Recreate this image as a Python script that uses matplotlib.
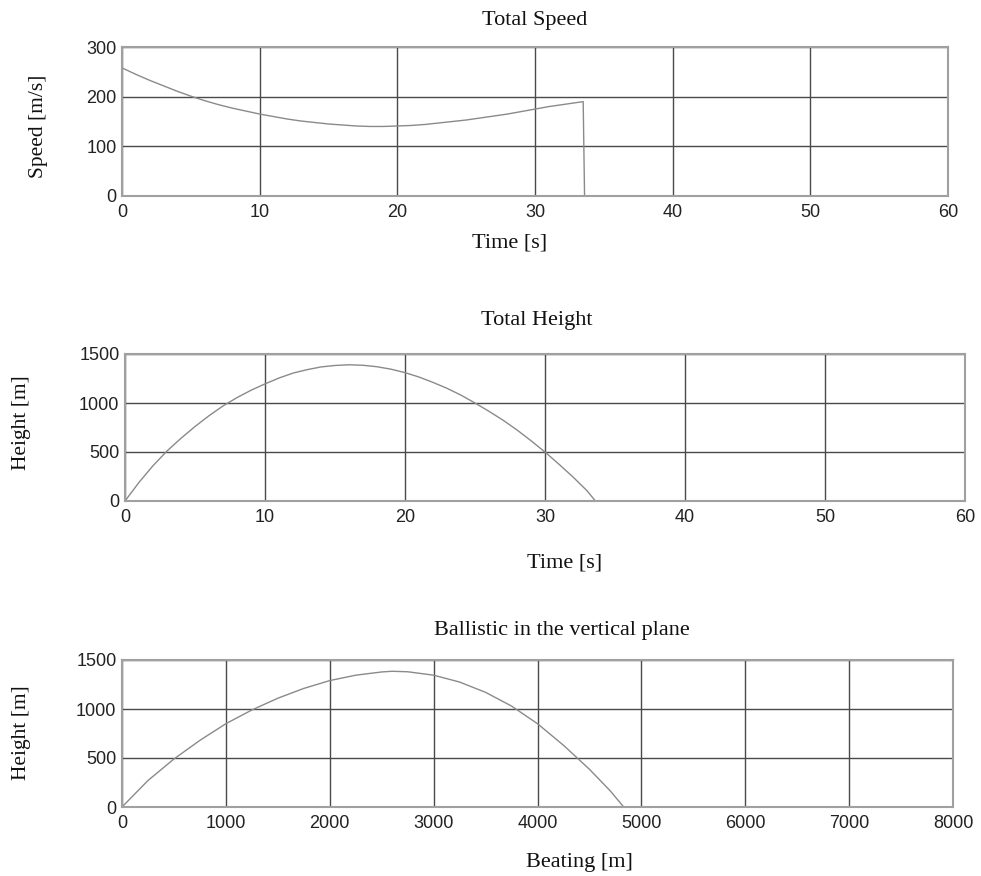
import matplotlib
matplotlib.use("Agg")
import matplotlib.pyplot as plt

# --- data ---
speed_t = [0, 1, 2, 3, 4, 5, 6, 7, 8, 9, 10, 11, 12, 13, 14, 15, 16, 17, 18, 19,
           20, 21, 22, 23, 24, 25, 26, 27, 28, 29, 30, 31, 32, 33, 33.5, 33.6, 40]
speed_v = [258, 245, 233, 222, 211, 201, 192, 184, 177, 171, 165, 160, 155, 151, 148,
           145, 143, 141, 140, 140, 141, 142, 144, 147, 150, 153, 157, 161, 165, 170,
           175, 180, 184, 188, 190, 0, 0]

height_t = [0, 1, 2, 3, 4, 5, 6, 7, 8, 9, 10, 11, 12, 13, 14, 15, 16, 17, 18, 19,
            20, 21, 22, 23, 24, 25, 26, 27, 28, 29, 30, 31, 32, 33, 33.6, 40]
height_h = [0, 190, 360, 510, 640, 760, 870, 970, 1055, 1130, 1195, 1255, 1305, 1340,
            1368, 1383, 1390, 1385, 1370, 1345, 1310, 1265, 1210, 1150, 1080, 1000,
            915, 825, 725, 615, 500, 375, 245, 105, 0, 0]

range_x = [0, 250, 500, 750, 1000, 1250, 1500, 1750, 2000, 2250, 2500, 2600, 2750,
           3000, 3250, 3500, 3750, 4000, 4250, 4500, 4700, 4830, 5500]
range_h = [0, 270, 490, 680, 850, 990, 1110, 1210, 1290, 1345, 1378, 1385, 1380,
           1345, 1275, 1170, 1030, 850, 630, 385, 165, 0, 0]

speed_xticks = [0, 10, 20, 30, 40, 50, 60]
speed_yticks = [0, 100, 200, 300]
height_xticks = [0, 10, 20, 30, 40, 50, 60]
height_yticks = [0, 500, 1000, 1500]
range_xticks = [0, 1000, 2000, 3000, 4000, 5000, 6000, 7000, 8000]
range_yticks = [0, 500, 1000, 1500]

fig = plt.figure(figsize=(9.81, 8.76), dpi=100)

serif = ["Liberation Serif", "DejaVu Serif"]
sans = ["Liberation Sans", "DejaVu Sans"]

def setup(ax, xt, yt, xl, yl, title, tx, ty, xlx, xly, ylx, yly):
    ax.set_xlim(xt[0], xt[-1])
    ax.set_ylim(yt[0], yt[-1])
    ax.set_xticks(xt)
    ax.set_yticks(yt)
    ax.grid(True, color="#4a4a4a", linewidth=1.0)
    ax.tick_params(axis="x", length=0, labelsize=13, pad=6, labelcolor="#222222")
    ax.tick_params(axis="y", length=0, labelsize=13, pad=4, labelcolor="#222222")
    for lab in ax.get_xticklabels() + ax.get_yticklabels():
        lab.set_family(sans)
    for s in ax.spines.values():
        s.set_color("#a0a0a0")
        s.set_linewidth(1.5)
    fig.text(tx / 981, 1 - ty / 876, title, ha="center", va="center",
             family=serif, fontsize=16, color="#111111")
    fig.text(xlx / 981, 1 - xly / 876, xl, ha="center", va="center",
             family=serif, fontsize=16, color="#111111")
    fig.text(ylx / 981, 1 - yly / 876, yl, ha="center", va="center",
             rotation=90, family=serif, fontsize=15.5, color="#111111")

line_kw = dict(color="#8a8a8a", linewidth=1.0)

ax1 = fig.add_axes([122/981, 1-196/876, (948-122)/981, (196-47)/876])
ax1.plot(speed_t, speed_v, **line_kw)
setup(ax1, speed_xticks, speed_yticks, "Time [s]", "Speed [m/s]",
      "Total Speed", 535, 20, 510, 243, 38, 126)

ax2 = fig.add_axes([125/981, 1-501/876, (965-125)/981, (501-354)/876])
ax2.plot(height_t, height_h, **line_kw)
setup(ax2, height_xticks, height_yticks, "Time [s]", "Height [m]",
      "Total Height", 537, 320, 565, 563, 22, 423)

ax3 = fig.add_axes([122/981, 1-807/876, (953-122)/981, (807-660)/876])
ax3.plot(range_x, range_h, **line_kw)
setup(ax3, range_xticks, range_yticks, "Beating [m]", "Height [m]",
      "Ballistic in the vertical plane", 562, 630, 579, 862, 22, 733)

fig.savefig("out.png", dpi=100)
